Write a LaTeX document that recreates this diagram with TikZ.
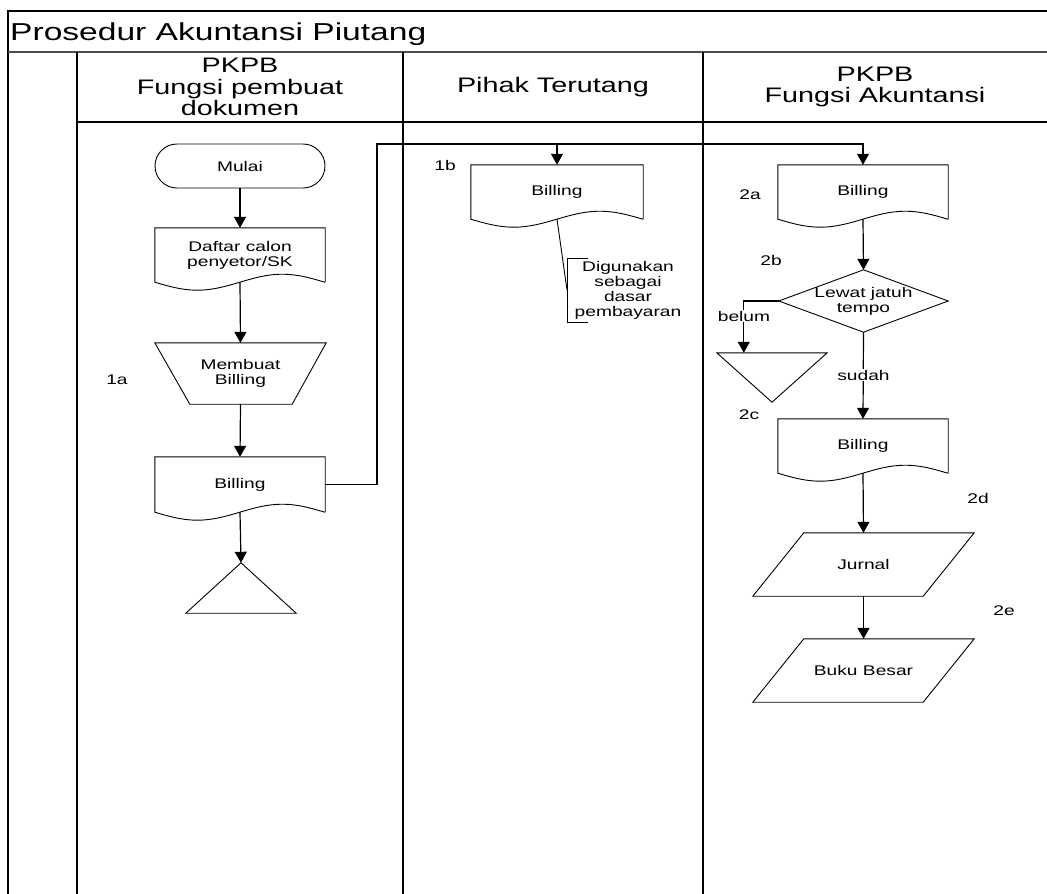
\documentclass[tikz,border=0pt]{standalone}
\usepackage{fontspec}
\setmainfont{Liberation Sans}[FakeStretch=1.37]
\usetikzlibrary{arrows.meta,calc}

% document symbol: rectangle with a wavy bottom edge (#2 = quarter of the width)
\newcommand\docshape[2]{%
  \draw[shp] (#1.south east) -- (#1.north east) -- (#1.north west) -- (#1.south west)
    sin ++(#2,8) cos ++(#2,-8) sin ++(#2,-8) cos ++(#2,8) -- (#1.south east);}

\begin{document}
\begin{tikzpicture}[x=1pt,y=-1pt,
  every node/.style={font=\fontsize{14}{15}\selectfont, inner sep=0pt, align=center},
  shp/.style={line width=0.9pt},
  flow/.style={line width=1.2pt, -{Triangle[width=12pt,length=11pt]}},
  conn/.style={line width=1.2pt},
  frame/.style={line width=1.4pt},
  hdr/.style={font=\fontsize{21}{21.5}\selectfont},
  docbox/.style={minimum width=170pt, minimum height=54pt},
  shade/.style={fill=white, inner sep=1pt},
]
\useasboundingbox (0,0) rectangle (1047,894);

% ---- swimlane frame ----
\draw[frame] (8,894) -- (8,11) -- (1047,11);
\draw[line width=2.6pt, gray!60!black] (8,52) -- (1047,52);
\draw[frame] (77,52) -- (77,894);
\draw[frame] (403,52) -- (403,894);
\draw[frame] (703,52) -- (703,894);
\draw[frame] (77,122) -- (1047,122);

\node[anchor=base west, font=\fontsize{24.5}{25}\selectfont] (title) at (10,40) {Prosedur Akuntansi Piutang};
\node[hdr] (h1) at (240,87) {PKPB\\Fungsi pembuat\\dokumen};
\node[hdr] (h2) at (553,87) {Pihak Terutang};
\node[hdr] (h3) at (875,87) {PKPB\\Fungsi Akuntansi};

% ---- lane 1: Fungsi pembuat dokumen ----
\node[draw, shp, rounded corners=22pt, minimum width=170pt, minimum height=44pt] (mulai) at (240,166) {Mulai};

\node[docbox] (daftar) at (240,255) {Daftar calon\\penyetor/SK};
\docshape{daftar}{42.5}

\node[minimum width=171pt, minimum height=61pt] (buat) at (240.5,373.5) {Membuat\\Billing};
\draw[shp] (buat.north west) -- (buat.north east) -- ($(buat.south east)+(-34,0)$)
  -- ($(buat.south west)+(35,0)$) -- cycle;
\node (l1a) at (117,380) {1a};

\node[docbox, minimum height=55pt] (bill1) at (240,484.5) {Billing};
\docshape{bill1}{42.5}

\node[minimum width=110pt, minimum height=50pt] (off1) at (241,588) {};
\draw[shp] (off1.north) -- (off1.south east) -- (off1.south west) -- cycle;

\draw[flow] (mulai.south) -- (daftar.north);
\draw[flow] (daftar.south) -- (buat.north);
\draw[flow] (buat.south) -- (bill1.north);
\draw[flow] (bill1.south) -- (off1.north);

% ---- lane 2: Pihak Terutang ----
\node[docbox, minimum width=172pt] (bill2) at (557,192) {Billing};
\docshape{bill2}{43}
\node (l1b) at (445,165) {1b};

\node (guna) at (628,290) {Digunakan\\sebagai\\dasar\\pembayaran};
\coordinate (brk) at (567,290);
\draw[shp] ($(brk)+(21,-32)$) -- ($(brk)+(0,-32)$) -- ($(brk)+(0,32)$) -- ($(brk)+(21,32)$);
\draw[shp] (bill2.south) -- (brk);

% ---- lane 3: Fungsi Akuntansi ----
\node[docbox] (bill3) at (863,192) {Billing};
\docshape{bill3}{42.5}
\node (l2a) at (750,195) {2a};

\node[minimum width=169pt, minimum height=62pt] (cek) at (863.5,301) {Lewat jatuh\\tempo};
\draw[shp] (cek.north) -- (cek.east) -- (cek.south) -- (cek.west) -- cycle;
\node (l2b) at (771,260) {2b};

\node[minimum width=110pt, minimum height=49pt] (off2) at (772,377.5) {};
\draw[shp] (off2.north west) -- (off2.north east) -- (off2.south) -- cycle;
\node (l2c) at (749,415) {2c};

\node[docbox] (bill4) at (863,446) {Billing};
\docshape{bill4}{42.5}
\node (l2d) at (978,498) {2d};

\node[minimum width=221pt, minimum height=63pt] (jurnal) at (863.5,564.5) {Jurnal};
\draw[shp] ($(jurnal.north west)+(51,0)$) -- (jurnal.north east)
  -- ($(jurnal.south east)+(-51,0)$) -- (jurnal.south west) -- cycle;
\node (l2e) at (1004,611) {2e};

\node[minimum width=221pt, minimum height=63pt] (buku) at (863.5,670.5) {Buku Besar};
\draw[shp] ($(buku.north west)+(51,0)$) -- (buku.north east)
  -- ($(buku.south east)+(-51,0)$) -- (buku.south west) -- cycle;

% ---- connectors ----
\coordinate (j1) at (377,144);
\draw[flow] (bill1.east) -| (j1) -| (bill3.north);
\draw[flow] (bill2.north |- j1) -- (bill2.north);

\draw[flow] (bill3.south) -- (cek.north);
\draw[flow] (cek.west) -| ($(off2.north west)+(27,0)$);
\node[shade] (belum) at (744,316) {belum};
\draw[flow] (cek.south) -- (bill4.north);
\node[shade] (sudah) at (863.5,375) {sudah};
\draw[flow] (bill4.south) -- (jurnal.north);
\draw[flow] (jurnal.south) -- (buku.north);
\end{tikzpicture}
\end{document}
